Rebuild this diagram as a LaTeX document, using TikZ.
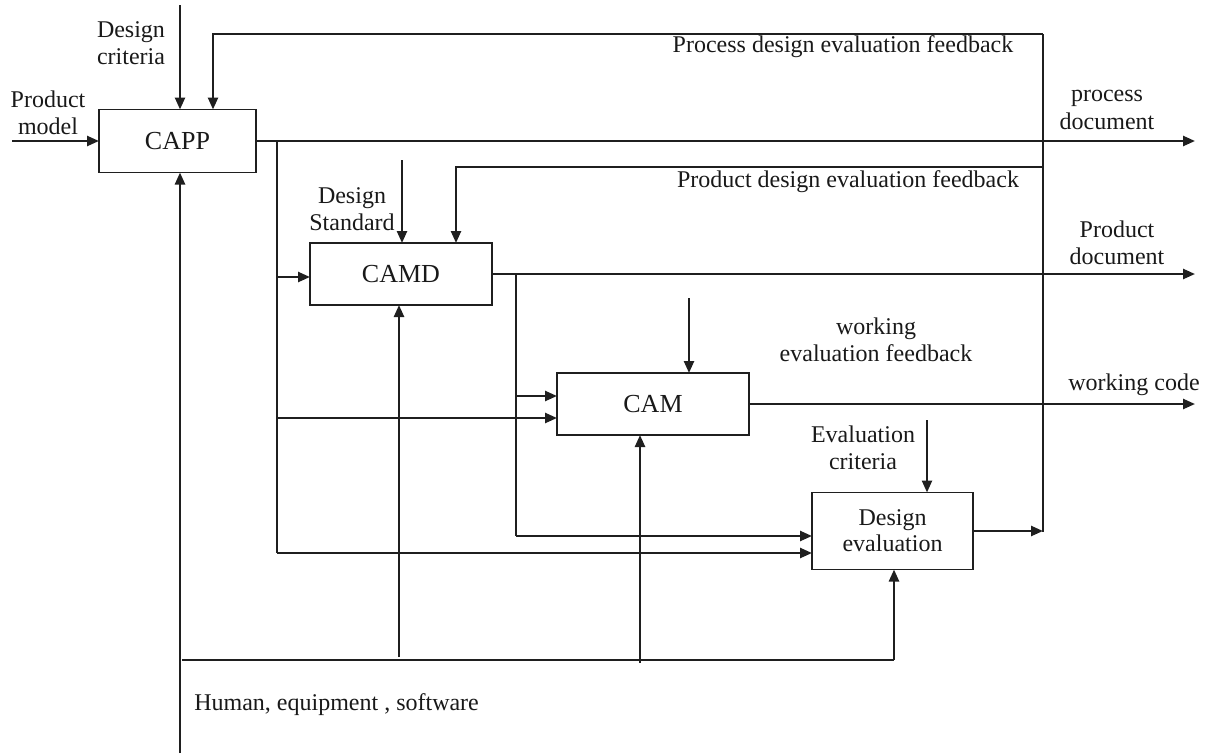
\documentclass[tikz,border=0pt]{standalone}
\usepackage{fontspec}
\setmainfont{Liberation Serif}
\usetikzlibrary{arrows.meta}
\begin{document}
\begin{tikzpicture}[x=0.75pt,y=-0.75pt,
  ln/.style={line width=1.8pt,color=black!88},
  arr/.style={ln,-{Triangle[length=9pt,width=7.5pt]}},
  box/.style={draw,line width=1.4pt,color=black!88,text=black!90,inner sep=0pt,outer sep=0pt,align=center,font=\fontsize{19.5}{24}\selectfont},
  lbl/.style={inner sep=0pt,align=center,text=black!90,font=\fontsize{18}{20.5}\selectfont}]
\useasboundingbox (0,0) rectangle (1212,753);

% boxes
\node[box,minimum width=117.75pt,minimum height=47.25pt] (capp) at (177.5,141) {CAPP};
\node[box,minimum width=136.5pt,minimum height=46.5pt] (camd) at (401,274) {CAMD};
\node[box,minimum width=144pt,minimum height=46.5pt] (cam) at (653,404) {CAM};
\node[box,minimum width=120.75pt,minimum height=57.75pt,font=\fontsize{18}{19.5}\selectfont] (de) at (892.5,531) {Design\\evaluation};

% labels
\node[lbl] (lDC) at (131,43) {Design\\criteria};
\node[lbl] (lPM) at (48,113) {Product\\model};
\node[lbl] (lPF) at (843,47) {Process design evaluation feedback};
\node[lbl] (lPD) at (1107,110) {process\\document};
\node[lbl] (lDS) at (352,209) {Design\\Standard};
\node[lbl] (lPDF) at (848,182) {Product design evaluation feedback};
\node[lbl] (lPrD) at (1117,243) {Product\\document};
\node[lbl] (lWF) at (876,340) {working\\evaluation feedback};
\node[lbl] (lWC) at (1134,385) {working code};
\node[lbl] (lEC) at (863,448) {Evaluation\\criteria};
\node[lbl,anchor=west] (lHES) at (194,705) {Human, equipment , software};

% coordinates
\coordinate (pmIn) at (12,141);
\coordinate (dcTop) at (180,5);
\coordinate (fbTR) at (1043,34);
\coordinate (fbTL) at (213,34);
\coordinate (rvB) at (1043,532);
\coordinate (outR) at (1195,0);
\coordinate (v1T) at (277,141);
\coordinate (v1B) at (277,553);
\coordinate (v1a) at (277,277);
\coordinate (v1b) at (277,418);
\coordinate (v2T) at (516,274);
\coordinate (v2B) at (516,536);
\coordinate (v2a) at (516,396);
\coordinate (dsTop) at (402,160);
\coordinate (fb2R) at (1043,167);
\coordinate (fb2L) at (456,167);
\coordinate (wfTop) at (689,298);
\coordinate (ecTop) at (927,420);
\coordinate (resB) at (180,753);
\coordinate (hL) at (182,660);
\coordinate (hR) at (894,660);
\coordinate (camdUp) at (399,657);
\coordinate (camUp) at (640,663);

% CAPP inputs
\draw[arr] (pmIn) -- (capp.west);
\draw[arr] (dcTop) -- (dcTop |- capp.north);
\draw[arr] (fbTR) -- (fbTL) -- (fbTL |- capp.north);
\draw[ln] (fbTR) -- (rvB);
\draw[arr] (resB) -- (resB |- capp.south);

% CAPP output
\draw[arr] (capp.east) -- (capp.east -| outR);
\draw[ln] (v1T) -- (v1B);
\draw[arr] (v1a) -- (v1a -| camd.west);
\draw[arr] (v1b) -- (v1b -| cam.west);
\draw[arr] (v1B) -- (v1B -| de.west);

% CAMD
\draw[arr] (dsTop) -- (dsTop |- camd.north);
\draw[arr] (fb2R) -- (fb2L) -- (fb2L |- camd.north);
\draw[arr] (camd.east) -- (camd.east -| outR);
\draw[ln] (v2T) -- (v2B);
\draw[arr] (v2a) -- (v2a -| cam.west);
\draw[arr] (v2B) -- (v2B -| de.west);

% CAM
\draw[arr] (wfTop) -- (wfTop |- cam.north);
\draw[arr] (cam.east) -- (cam.east -| outR);

% Design evaluation
\draw[arr] (ecTop) -- (ecTop |- de.north);
\draw[arr] (de.east) -- (de.east -| rvB);

% resources
\draw[ln] (hL) -- (hR);
\draw[arr] (hR) -- (hR |- de.south);
\draw[arr] (camdUp) -- (camdUp |- camd.south);
\draw[arr] (camUp) -- (camUp |- cam.south);
\end{tikzpicture}
\end{document}
